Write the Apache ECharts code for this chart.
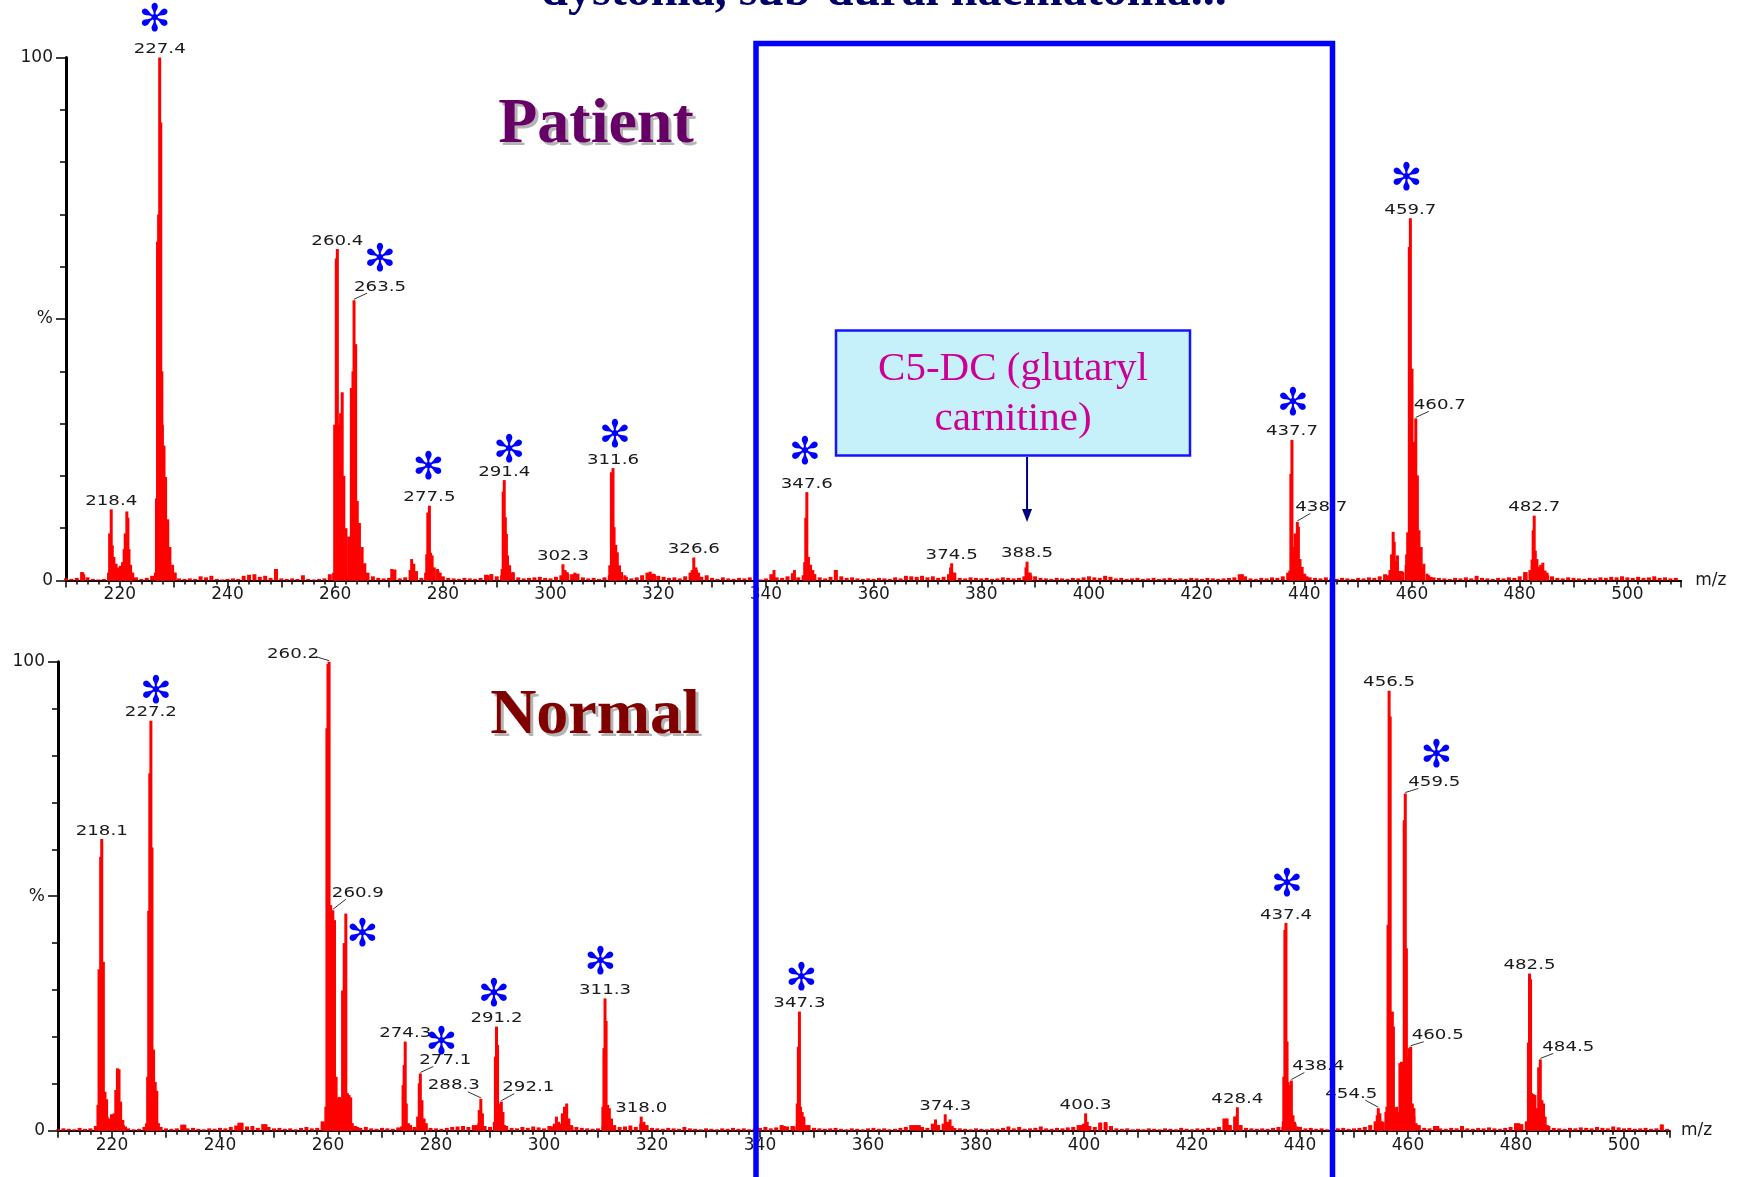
<!DOCTYPE html>
<html><head><meta charset="utf-8">
<script src="https://cdn.jsdelivr.net/npm/echarts@6/dist/echarts.min.js"></script>
<style>html,body{margin:0;padding:0;background:#fff}#c{width:1737px;height:1177px}</style>
</head><body><div id="c"></div>
<script>
// ---------------- DATA ----------------
const noiseStartMz = 210; // noise arrays: one value per integer m/z from 210
const patientNoise = [
0.4,0.3,0.5,1.6,0.6,0.3,0.2,0.3,0.5,2.5,
2.0,0.8,1.5,0.6,0.3,0.5,0.9,1.2,1.0,4.0,
1.5,0.4,0.3,0.4,0.3,0.8,0.6,0.9,0.3,0.2,
0.3,0.4,0.3,0.9,1.1,1.2,0.7,0.9,0.5,2.2,
0.4,0.3,0.4,0.3,1.0,0.3,0.2,0.3,0.4,1.2,
1.0,1.0,1.0,1.0,1.0,3.0,1.5,0.8,0.5,0.4,
0.5,2.1,0.4,0.6,2.0,1.8,0.5,1.0,2.0,1.8,
0.8,0.5,0.4,0.3,0.5,0.4,0.3,0.5,1.1,1.2,
0.8,1.0,3.0,1.5,0.6,0.4,0.5,0.6,0.7,0.5,
0.4,0.7,1.0,1.6,1.2,1.3,0.6,0.4,0.5,0.3,
0.6,1.0,4.0,1.5,0.7,0.4,0.6,1.0,1.5,1.3,
0.9,0.7,0.5,0.6,0.4,0.8,1.5,2.0,0.7,1.0,
0.5,0.3,0.6,0.4,0.3,0.5,0.4,0.6,0.3,0.2,
0.4,1.2,0.6,0.5,0.8,1.4,0.6,1.0,3.0,1.2,
0.6,0.4,0.7,2.0,0.8,0.5,0.6,0.4,0.3,0.4,
0.3,0.5,0.4,0.3,0.6,0.4,0.9,0.8,0.7,0.9,
0.6,0.8,0.5,0.7,1.2,1.5,0.5,0.4,0.6,0.5,
0.4,0.5,0.3,0.4,0.6,0.5,0.4,0.5,0.8,1.5,
0.8,0.5,0.4,0.3,0.5,0.4,0.3,0.5,0.4,0.6,
0.8,0.6,0.5,0.9,0.7,0.4,0.5,0.3,0.4,0.5,
0.3,0.4,0.5,0.3,0.4,0.5,0.3,0.4,0.3,0.5,
0.4,0.3,0.5,0.4,0.3,0.4,0.5,0.6,1.2,0.8,
0.4,0.3,0.5,0.4,0.6,0.5,0.8,1.5,3.0,2.5,
1.2,0.6,0.5,0.4,0.6,0.4,0.3,0.5,0.4,0.3,
0.5,0.4,0.6,0.5,0.8,1.2,2.0,3.5,1.8,3.0,
5.0,5.0,2.5,1.0,0.6,0.5,0.4,0.3,0.5,0.4,
0.6,0.4,0.9,0.5,0.4,0.3,0.5,0.4,0.6,0.5,
0.8,1.6,2.0,3.0,3.0,1.5,0.8,0.5,0.4,0.6,
0.5,0.4,0.3,0.5,0.4,0.6,0.5,0.7,0.6,0.8,
0.6,0.5,0.7,0.5,0.6,0.8,0.5,0.6,0.4,0.5
];
const normalNoise = [
0.3,0.5,0.4,0.3,0.6,0.4,0.5,1.0,2.0,3.0,
3.5,2.0,1.2,0.5,0.3,0.4,0.8,1.5,2.0,0.8,
0.5,0.4,0.5,1.3,0.5,0.6,0.4,0.3,0.5,0.4,
0.6,0.5,0.8,1.1,1.7,0.9,1.0,0.6,1.4,0.8,
0.5,0.6,0.4,0.5,0.3,0.6,0.8,0.5,0.6,2.0,
3.0,3.0,3.0,3.0,3.0,1.0,0.6,0.8,0.5,0.4,
0.6,0.5,0.4,0.7,1.0,1.0,0.8,1.2,1.2,0.6,
0.5,0.4,0.6,0.8,0.9,1.0,0.8,1.2,1.5,1.0,
0.8,1.2,2.0,1.0,0.6,0.5,0.8,0.6,0.9,0.7,
0.5,1.0,1.5,1.5,2.0,1.2,0.8,0.6,0.5,0.4,
0.5,1.0,2.0,1.2,0.8,0.9,1.1,0.8,1.5,1.2,
0.6,0.5,0.4,0.6,0.5,0.4,0.8,0.5,0.4,0.3,
0.5,0.4,0.3,0.5,0.4,0.6,0.4,0.5,0.3,0.4,
0.6,0.8,0.5,0.7,1.2,0.9,1.0,1.5,2.5,1.2,
0.6,0.5,0.4,0.5,0.6,0.4,0.3,0.5,0.4,0.3,
0.5,0.6,0.4,0.5,0.3,0.4,0.6,0.8,1.2,1.2,
0.8,0.6,1.5,1.2,1.5,1.8,0.6,0.5,0.4,0.3,
0.5,0.4,0.3,0.5,0.4,0.6,0.9,0.5,0.8,0.4,
0.5,0.6,0.9,0.5,0.4,0.6,0.5,0.7,0.8,1.2,
1.5,1.0,0.8,1.7,1.8,1.0,0.5,0.4,0.5,0.3,
0.4,0.3,0.5,0.4,0.3,0.5,0.4,0.3,0.6,0.4,
0.3,0.5,0.4,0.6,0.5,0.8,2.6,1.2,3.0,1.2,
0.6,0.5,0.4,0.5,0.4,0.6,0.8,2.0,3.0,1.5,
0.8,0.5,0.6,0.4,0.5,0.3,0.4,0.5,0.6,0.4,
0.5,0.6,0.8,1.2,2.0,2.0,4.0,4.0,4.0,5.0,
5.0,3.0,1.2,0.6,0.5,1.0,0.5,0.4,0.6,0.5,
1.0,0.5,0.4,0.6,0.5,0.7,0.5,0.4,0.6,0.8,
1.6,1.4,2.0,3.0,3.0,2.0,1.0,0.6,0.5,0.4,
0.6,0.5,0.7,0.6,0.5,0.8,0.6,0.5,0.9,0.7,
0.5,0.6,0.4,0.5,0.6,0.4,0.5,1.3,0.4
];
// profile points of the peaks: [m/z, relative intensity %]
const patientPeaks = [
[213.0,1.6],[213.3,1.2],
[217.9,1.5],[218.1,9],[218.4,13.6],[218.6,6.7],[218.9,4.5],[219.3,3.2],[219.7,2.5],[220.1,2.8],[220.5,3.5],[220.8,6],[221.0,9],[221.3,13.2],[221.5,12],[221.7,6],[222.0,3],[222.4,1.5],
[226.6,1.5],[226.8,15.7],[227.0,64.8],[227.2,70],[227.4,100],[227.6,87.6],[227.8,40],[227.9,29.8],[228.2,25.8],[228.5,19.8],[228.9,11.7],[229.3,6.4],[229.8,3],[230.3,1.5],
[259.7,1.5],[259.9,29.8],[260.2,61.6],[260.4,63.4],[260.7,29.8],[261.0,32],[261.3,36],[261.6,20],[262.0,10],[262.5,8.4],[263.0,36.8],[263.3,40],[263.5,53.6],[263.8,45.2],[264.1,15.2],[264.5,11],[265.0,6.4],[265.5,3.3],[266.0,1.3],
[270.5,2.2],
[274.2,4.1],[274.6,3.2],[275.0,1.5],[276.8,1.5],[277.0,5],[277.2,13],[277.5,14.3],[277.7,5.3],[278.0,4.8],[278.4,2.5],[279.0,2.2],[279.5,1.5],
[288.4,1.0],[289.0,1.2],
[291.0,2.2],[291.2,17],[291.4,19.2],[291.6,12.1],[291.8,8.9],[292.0,4.8],[292.4,2.9],[293.0,1.6],
[302.3,3.1],[302.7,2],[303.2,1.2],[304.5,1.5],
[311.0,2.9],[311.3,20.7],[311.6,21.5],[311.8,10.2],[312.1,6.8],[312.4,5.4],[312.8,2.9],[313.2,1.6],[313.8,1.0],
[318.5,1.7],[319.3,1.2],
[326.3,2],[326.6,4.4],[327.0,2.5],[327.5,1.5],
[341.5,2],[345.3,2],
[347.2,3.5],[347.4,12],[347.6,16.9],[347.9,4.5],[348.3,3],[348.7,2],[349.0,1.2],[352.9,2],
[374.3,2.5],[374.5,3.3],[374.8,1.5],
[388.3,2.5],[388.5,3.6],[388.8,1.5],[389.2,1],
[428.5,1.2],
[437.3,1.9],[437.5,20.4],[437.7,26.9],[438.0,6.4],[438.3,9],[438.7,11.2],[438.9,10.3],[439.2,4.1],[439.6,2.6],[440.0,1.3],[440.5,0.8],
[455.5,1.0],[456.2,5],[456.5,9.3],[456.7,7.4],[457.0,3.8],[457.3,4.8],[457.7,1.8],[458.3,1.6],[459.0,5],[459.2,9.2],[459.5,63.8],[459.7,69.3],[460.0,40.5],[460.3,26.5],[460.7,31],[461.0,20.1],[461.3,9.6],[461.7,6.4],[462.2,3.2],[462.8,1.3],[463.5,0.7],
[481.2,1.6],[482.3,4],[482.5,9.6],[482.7,12.4],[482.9,5.7],[483.2,4.1],[483.6,2.6],[484.0,2.9],[484.3,3.4],[484.7,1.9],[485.2,1.0]
];
const normalPeaks = [
[217.4,5.5],[217.6,34.4],[217.9,58.4],[218.1,62.2],[218.4,36],[218.7,8.3],[219.0,6.7],[219.4,2.6],[219.9,3],[220.4,3.7],[220.7,8.7],[221.0,13.3],[221.3,13.1],[221.6,6.2],[222.0,2.3],[222.5,0.9],
[226.4,1.6],[226.6,11.5],[226.8,46.9],[227.0,76.2],[227.2,87.4],[227.4,60.4],[227.7,17.3],[228.0,10.4],[228.3,8.5],[228.6,1.6],[229.0,0.8],
[233.5,1.3],[243.5,1.7],[248.5,1.4],
[259.3,1.6],[259.6,5.1],[259.8,85.8],[260.0,99.5],[260.2,100],[260.5,48.1],[260.9,47],[261.2,44.9],[261.5,11.5],[261.8,6.9],[262.1,7.2],[262.4,6.9],[262.7,29.9],[263.0,40],[263.3,46.3],[263.6,8],[263.9,7.6],[264.2,7.1],[264.5,1.6],[265.5,0.8],
[273.6,0.9],[273.9,9.7],[274.1,14],[274.3,19],[274.5,5.8],[274.9,1.6],[275.3,1.2],
[276.6,3],[276.9,10.1],[277.1,12.2],[277.4,6.5],[277.8,2.6],[278.2,1.6],
[287.5,1.2],[288.0,4.4],[288.3,6.8],[288.6,3.7],[288.9,0.9],
[290.8,1.9],[291.0,15.8],[291.2,22.2],[291.4,18.3],[291.7,5.8],[292.1,6.2],[292.4,4],[292.7,1.2],
[301.5,0.9],[302.3,3],[302.7,1.9],[303.4,3.7],[303.8,5.1],[304.2,5.8],[304.6,2.6],[305.2,0.9],
[310.9,5.1],[311.1,17.6],[311.3,28.2],[311.5,23.4],[311.8,5.5],[312.1,4.8],[312.5,2.6],[313.0,0.9],
[316.0,1.0],[318.0,3],[318.5,1.9],[319.0,0.9],
[344.5,1.0],[346.3,0.9],[346.9,5.8],[347.1,17.9],[347.3,25.4],[347.5,5.1],[347.8,4],[348.1,3],[348.5,1.2],
[368.5,1.2],[369.5,1.2],[372.5,2.4],[373.0,1.2],[374.3,3.5],[374.7,1.9],[375.2,2.4],[375.6,1.0],
[399.5,1.2],[400.3,3.7],[400.6,1.9],[403.0,1.7],[404.0,1.8],
[426.5,2.6],[427.0,1.2],[428.0,3],[428.4,5],[429.0,1.2],
[436.8,0.8],[437.0,11.5],[437.2,42.8],[437.4,44.3],[437.6,19],[437.8,10.4],[438.0,9.7],[438.4,10.7],[438.7,3.3],[439.0,1.9],[439.4,0.9],
[454.3,3.3],[454.5,4.8],[454.8,3.7],[455.1,1.6],[455.4,1.9],
[456.1,5.1],[456.3,43.9],[456.5,93.8],[456.7,88.3],[456.9,14],[457.1,25.4],[457.3,22.2],[457.6,4.8],[457.9,5.1],[458.2,4],[458.5,14.4],[458.8,14.7],[459.0,14.4],[459.3,66.2],[459.5,71.9],[459.7,38.9],[460.0,15.8],[460.2,17.6],[460.5,17.9],[460.8,5.8],[461.1,4.8],[461.5,1.6],
[465.5,1.0],[480.5,1.6],
[482.3,18.8],[482.5,33.5],[482.7,32.3],[482.9,8],[483.2,7.8],[483.5,7.6],[483.8,4.8],[484.2,13.5],[484.5,15.2],[484.8,6.5],[485.1,5.8],[485.4,3],[485.8,1.2],
[507.0,1.3]
];
// labelled peaks (m/z) and starred peaks (m/z)
const patientLabelled = [218.4,227.4,260.4,263.5,277.5,291.4,302.3,311.6,326.6,347.6,374.5,388.5,437.7,438.7,459.7,460.7,482.7];
const normalLabelled = [218.1,227.2,260.2,260.9,274.3,277.1,288.3,291.2,292.1,311.3,318.0,347.3,374.3,400.3,428.4,437.4,438.4,454.5,456.5,459.5,460.5,482.5,484.5];
const patientStarred = [227.4,263.5,277.5,291.4,311.6,347.6,437.7,459.7];
const normalStarred = [227.2,263.3,277.1,291.2,311.3,347.3,437.4,459.5];
const xTickLabels = [220,240,260,280,300,320,340,360,380,400,420,440,460,480,500];
const yTickLabels = {0:'0', 50:'%', 100:'100'};
const panelTitles = ['Patient','Normal'];
const annotationLines = ['C5-DC (glutaryl','carnitine)'];
const annotatedMz = 388.5;
const slideTitle = 'dystonia, sub-dural haematoma...';

// ---------------- STYLE / LAYOUT ----------------
const labelShift = [
  {'263.5':[26,-13],'438.7':[24,-14.5],'460.7':[24,-13]},
  {'260.2':[-36,-7],'260.9':[25,-17],'277.1':[25,-13],'288.3':[-27,-13],'292.1':[27,-14],
   '438.4':[27,-14],'454.5':[-27,-14],'459.5':[29,-11],'460.5':[27,-11],'484.5':[28,-12]}
];
const starShift = [
  [[-5,-36],[26,-39],[-1,-37],[5,-28],[2,-31],[-2,-38],[1,-35],[-4,-38]],
  [[5,-28],[16.5,23],[21,-29.5],[-2.6,-30],[-4.5,-34],[2,-31],[1,-37],[31,-36.5]]
];
const LABEL_FONT = '14px "DejaVu Sans"';
const AXIS_FONT = 'DejaVu Sans';

function heightAt(peaks, mz){
  for (const p of peaks) if (Math.abs(p[0]-mz) < 1e-6) return p[1];
  return 0;
}
function noisePairs(arr){ return arr.map((v,i)=>[noiseStartMz+i, v]); }

function barRender(w){
  return function(params, api){
    const x = api.value(0), v = api.value(1);
    const b = api.coord([x,0]), t = api.coord([x,v]);
    return {type:'rect', shape:{x:t[0]-w/2, y:t[1], width:w, height:b[1]-t[1]}, style:{fill:'#ff0000'}};
  };
}
function labelRender(shifts){
  return function(params, api){
    const mz = api.value(0), v = api.value(1);
    const p = api.coord([mz, v]);
    const txt = mz.toFixed(1);
    const s = shifts[txt];
    const children = [];
    let tx = p[0], ty = p[1]-8;
    if (s){
      tx = p[0]+s[0]; ty = p[1]+s[1];
      const sign = s[0] > 0 ? 1 : -1;
      children.push({type:'line', shape:{x1:p[0], y1:p[1]-1, x2:p[0]+sign*13, y2:p[1]+Math.min(s[1]+6,-5)},
        style:{stroke:'#333', lineWidth:1}});
    }
    children.push({type:'text', x:tx, y:ty, scaleX:1.3,
      style:{text:txt, font:LABEL_FONT, fill:'#1a1a1a', align:'center', verticalAlign:'middle', textAlign:'center', textVerticalAlign:'middle'}});
    return {type:'group', children};
  };
}
function starRender(shifts){
  return function(params, api){
    const p = api.coord([api.value(0), api.value(1)]);
    const s = shifts[params.dataIndex];
    return {type:'text', x:p[0]+s[0], y:p[1]+s[1],
      style:{text:'\u273B', font:'38px "DejaVu Sans"', fill:'#0000ff', align:'center', verticalAlign:'middle', textAlign:'center', textVerticalAlign:'middle'}};
  };
}

function makeX(gi, max, gap){
  return {
    type:'value', gridIndex:gi, min:210, max:max, interval:10,
    name:'m/z', nameLocation:'end', nameGap:gap,
    nameTextStyle:{fontFamily:AXIS_FONT, fontSize:17, color:'#1a1a1a', verticalAlign:'middle'},
    axisLine:{show:true, onZero:false, lineStyle:{color:'#000', width:2}},
    axisTick:{show:true, length:7, lineStyle:{color:'#000', width:1.5}},
    minorTick:{show:true, splitNumber:5, length:4, lineStyle:{color:'#000', width:1.5}},
    splitLine:{show:false}, minorSplitLine:{show:false},
    axisLabel:{show:true, margin:6, fontFamily:AXIS_FONT, fontSize:17, color:'#1a1a1a', hideOverlap:false,
      formatter: v => (xTickLabels.indexOf(v) >= 0 ? String(v) : '')}
  };
}
function makeY(gi){
  return {
    type:'value', gridIndex:gi, min:0, max:100, interval:50,
    axisLine:{show:true, lineStyle:{color:'#000', width:3}},
    axisTick:{show:true, length:10, lineStyle:{color:'#000', width:1.5}},
    minorTick:{show:true, splitNumber:5, length:6, lineStyle:{color:'#000', width:1.5}},
    splitLine:{show:false}, minorSplitLine:{show:false},
    axisLabel:{margin:13, fontFamily:AXIS_FONT, fontSize:17, color:'#1a1a1a', hideOverlap:false,
      formatter: v => (yTickLabels[v] !== undefined ? yTickLabels[v] : '')}
  };
}

function panelSeries(gi, noise, peaks, labelled, starred){
  const common = {type:'custom', coordinateSystem:'cartesian2d', xAxisIndex:gi, yAxisIndex:gi, silent:true, encode:{x:0,y:1}};
  return [
    Object.assign({}, common, {name:'noise'+gi, renderItem:barRender(4), data:noisePairs(noise), z:2}),
    Object.assign({}, common, {name:'peaks'+gi, renderItem:barRender(3), data:peaks, z:3}),
    Object.assign({}, common, {name:'labels'+gi, renderItem:labelRender(labelShift[gi]), clip:false,
      data:labelled.map(m=>[m, heightAt(peaks,m)]), z:4}),
    Object.assign({}, common, {name:'stars'+gi, renderItem:starRender(starShift[gi]), clip:false,
      data:starred.map(m=>[m, heightAt(peaks,m)]), z:5})
  ];
}

const chart = echarts.init(document.getElementById('c'), null, {renderer:'canvas'});
const serifBold = (px) => 'bold '+px+'px "Liberation Serif"';
chart.setOption({
  backgroundColor:'#ffffff',
  animation:false,
  grid:[
    {left:66, top:57.6, width:1615.2, height:522.9, outerBoundsMode:'none', containLabel:false},
    {left:58, top:661.7, width:1611.9, height:469, outerBoundsMode:'none', containLabel:false}
  ],
  xAxis:[makeX(0,510,14), makeX(1,508.5,11)],
  yAxis:[makeY(0), makeY(1)],
  series:[].concat(
    panelSeries(0, patientNoise, patientPeaks, patientLabelled, patientStarred),
    panelSeries(1, normalNoise, normalPeaks, normalLabelled, normalStarred)
  ),
  graphic:[
    {id:'title', type:'text', x:884, y:-7, z:50,
      style:{text:slideTitle, font:serifBold(48), fill:'#000066', align:'center', verticalAlign:'middle', textAlign:'center', textVerticalAlign:'middle'}},
    {id:'p_sh', type:'text', x:599, y:128, z:50,
      style:{text:panelTitles[0], font:serifBold(64), fill:'#b4b4b4', align:'center', verticalAlign:'middle', textAlign:'center', textVerticalAlign:'middle'}},
    {id:'p', type:'text', x:596, y:125, z:51,
      style:{text:panelTitles[0], font:serifBold(64), fill:'#660066', align:'center', verticalAlign:'middle', textAlign:'center', textVerticalAlign:'middle'}},
    {id:'n_sh', type:'text', x:598, y:719.5, z:50,
      style:{text:panelTitles[1], font:serifBold(64), fill:'#b4b4b4', align:'center', verticalAlign:'middle', textAlign:'center', textVerticalAlign:'middle'}},
    {id:'n', type:'text', x:595, y:716.5, z:51,
      style:{text:panelTitles[1], font:serifBold(64), fill:'#800000', align:'center', verticalAlign:'middle', textAlign:'center', textVerticalAlign:'middle'}},
    {id:'box', type:'rect', z:50, shape:{x:836, y:330.5, width:354, height:125},
      style:{fill:'#c6f1fb', stroke:'#1414ff', lineWidth:2.5}},
    {id:'box1', type:'text', x:1013, y:369, z:51,
      style:{text:annotationLines[0], font:'41px "Liberation Serif"', fill:'#cc0099', align:'center', verticalAlign:'middle', textAlign:'center', textVerticalAlign:'middle'}},
    {id:'box2', type:'text', x:1013, y:419.5, z:51,
      style:{text:annotationLines[1], font:'41px "Liberation Serif"', fill:'#cc0099', align:'center', verticalAlign:'middle', textAlign:'center', textVerticalAlign:'middle'}},
    {id:'frame', type:'rect', z:100, shape:{x:756, y:43.5, width:576.5, height:1150},
      style:{fill:'none', stroke:'#0000ff', lineWidth:5.5}}
  ]
});
// arrow from the annotation box down to the C5-DC position on the patient axis
const ax = chart.convertToPixel({xAxisIndex:0}, annotatedMz);
chart.setOption({graphic:[
  {id:'arrowLine', type:'line', z:51, shape:{x1:ax, y1:457, x2:ax, y2:512}, style:{stroke:'#000080', lineWidth:2}},
  {id:'arrowHead', type:'polygon', z:51, shape:{points:[[ax-5,509],[ax+5,509],[ax,522]]}, style:{fill:'#000080'}}
]});
</script>
</body></html>
